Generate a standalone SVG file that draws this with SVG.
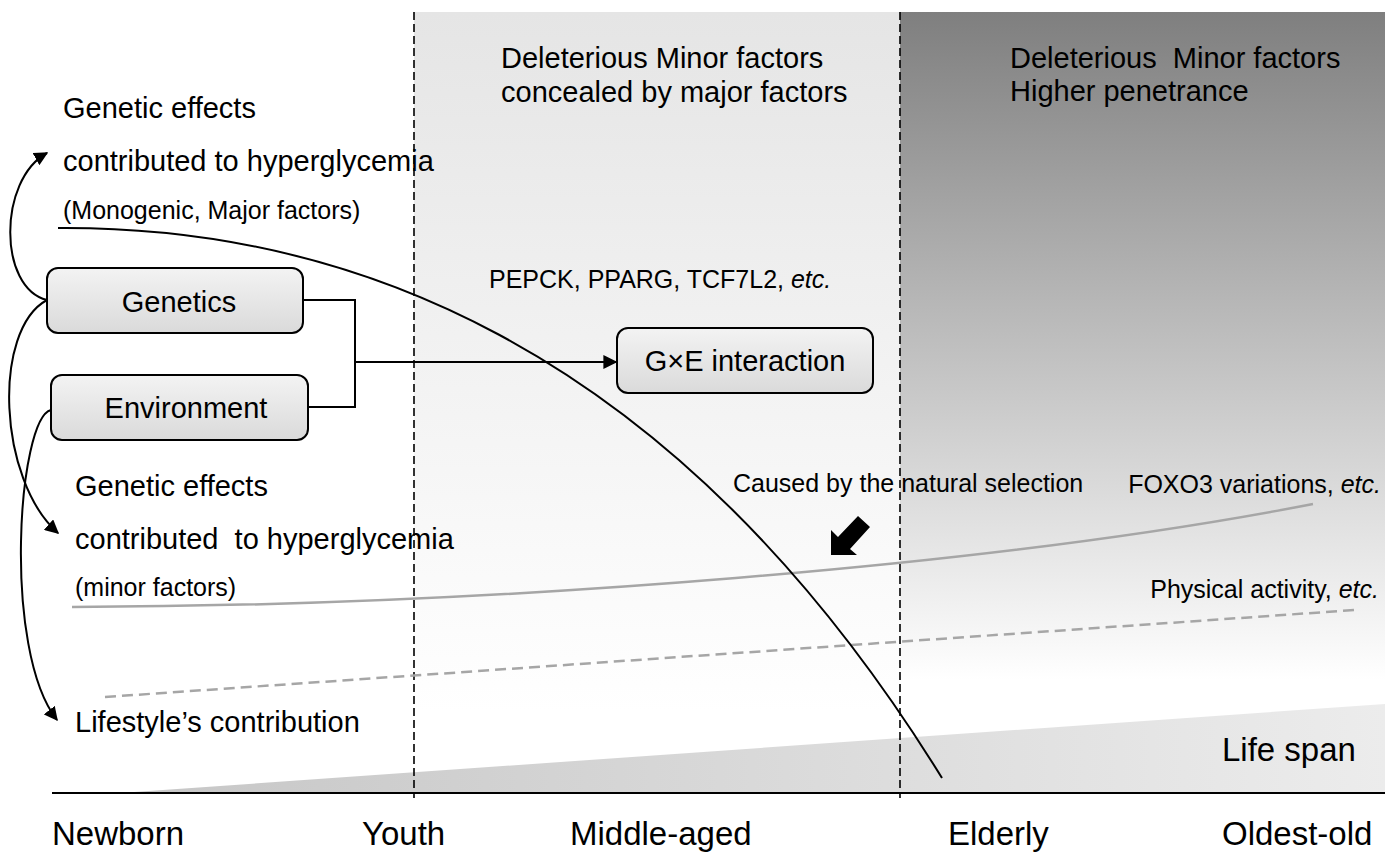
<svg xmlns="http://www.w3.org/2000/svg" width="1385" height="853" viewBox="0 0 1385 853">
<style>
text{font-family:"Liberation Sans",Arial,sans-serif;fill:#000}
.t29{font-size:29px}
.t25{font-size:25px}
.t33{font-size:33px}
.mid{text-anchor:middle}
.end{text-anchor:end}
.box{fill:url(#boxg);stroke:#000;stroke-width:2}
.ln{fill:none;stroke:#000;stroke-width:2}
.vd{fill:none;stroke:#000;stroke-width:1.6;stroke-dasharray:8 4}
</style>
<defs>
<linearGradient id="midg" x1="0" y1="0" x2="0" y2="1">
<stop offset="0" stop-color="#e5e5e5"/>
<stop offset="1" stop-color="#ffffff"/>
</linearGradient>
<linearGradient id="rightg" x1="0" y1="0" x2="0" y2="1">
<stop offset="0" stop-color="#7f7f7f"/>
<stop offset="1" stop-color="#ffffff"/>
</linearGradient>
<linearGradient id="lifeg" x1="0" y1="0" x2="1" y2="0">
<stop offset="0" stop-color="#c6c6c6"/>
<stop offset="1" stop-color="#ececec"/>
</linearGradient>
<linearGradient id="boxg" x1="0" y1="0" x2="0" y2="1">
<stop offset="0" stop-color="#f3f3f3"/>
<stop offset="1" stop-color="#dadada"/>
</linearGradient>
<marker id="ah" viewBox="0 0 10 10" refX="9" refY="5" markerWidth="14" markerHeight="14" markerUnits="userSpaceOnUse" orient="auto">
<path d="M0,0 L10,5 L0,10 z" fill="#000"/>
</marker>
</defs>

<g id="background">
<rect x="414" y="12" width="486" height="700" fill="url(#midg)"/>
<rect x="900" y="12" width="485" height="668" fill="url(#rightg)"/>
<polygon points="120,793 1385,704 1385,793" fill="url(#lifeg)"/>
</g>

<g id="guides">
<line class="vd" x1="414" y1="12" x2="414" y2="798"/>
<line class="vd" x1="900" y1="12" x2="900" y2="798"/>
<line x1="52" y1="793" x2="1385" y2="793" stroke="#000" stroke-width="2"/>
</g>

<g id="trends">
<path d="M72,607 C 500,606 1000,565 1313,504" fill="none" stroke="#a6a6a6" stroke-width="2.5"/>
<path d="M105,697 L1355,610" fill="none" stroke="#a6a6a6" stroke-width="2.5" stroke-dasharray="11 6"/>
<path d="M58,228 C 330,226 665,330 942,778" class="ln"/>
<polygon points="831,555 831,530 838,537 858,516 870,527 850,549 857,555" fill="#000"/>
</g>

<g id="connectors">
<path class="ln" d="M303,300 H355 V407 H308"/>
<path class="ln" d="M355,362 H616" marker-end="url(#ah)"/>
<path class="ln" d="M47,300 C -2,288 -2,180 47,153" marker-end="url(#ah)"/>
<path class="ln" d="M47,300 C -8,330 -2,480 58,533" marker-end="url(#ah)"/>
<path class="ln" d="M51,410 C 18,418 2,650 57,720" marker-end="url(#ah)"/>
</g>

<g id="node-genetics">
<rect class="box" x="47" y="268" width="256" height="65" rx="11"/>
<text class="t29 mid" x="179" y="312">Genetics</text>
</g>
<g id="node-environment">
<rect class="box" x="51" y="375" width="257" height="65" rx="11"/>
<text class="t29 mid" x="186" y="418">Environment</text>
</g>
<g id="node-gxe">
<rect class="box" x="617" y="328" width="256" height="65" rx="11"/>
<text class="t29 mid" x="745" y="371">G×E interaction</text>
</g>

<g id="labels">
<text class="t29" x="63" y="118">Genetic effects</text>
<text class="t29" x="63" y="171">contributed to hyperglycemia</text>
<text class="t25" x="63" y="219">(Monogenic, Major factors)</text>
<text class="t29" x="501" y="68">Deleterious Minor factors</text>
<text class="t29" x="501" y="102">concealed by major factors</text>
<text class="t29" x="1010" y="68" xml:space="preserve">Deleterious  Minor factors</text>
<text class="t29" x="1010" y="101">Higher penetrance</text>
<text class="t25" x="489" y="288">PEPCK, PPARG, TCF7L2, <tspan font-style="italic">etc.</tspan></text>
<text class="t25" x="733" y="492">Caused by the natural selection</text>
<text class="t25 end" x="1381" y="493">FOXO3 variations, <tspan font-style="italic">etc.</tspan></text>
<text class="t29" x="75" y="496">Genetic effects</text>
<text class="t29" x="75" y="549" xml:space="preserve">contributed  to hyperglycemia</text>
<text class="t25" x="75" y="596">(minor factors)</text>
<text class="t25 end" x="1379" y="598">Physical activity, <tspan font-style="italic">etc.</tspan></text>
<text class="t29" x="75" y="732">Lifestyle’s contribution</text>
<text class="t33" x="1222" y="761">Life span</text>
<text class="t33" x="52" y="845">Newborn</text>
<text class="t33" x="362" y="845">Youth</text>
<text class="t33" x="570" y="845">Middle-aged</text>
<text class="t33" x="948" y="845">Elderly</text>
<text class="t33" x="1222" y="845">Oldest-old</text>
</g>
</svg>
